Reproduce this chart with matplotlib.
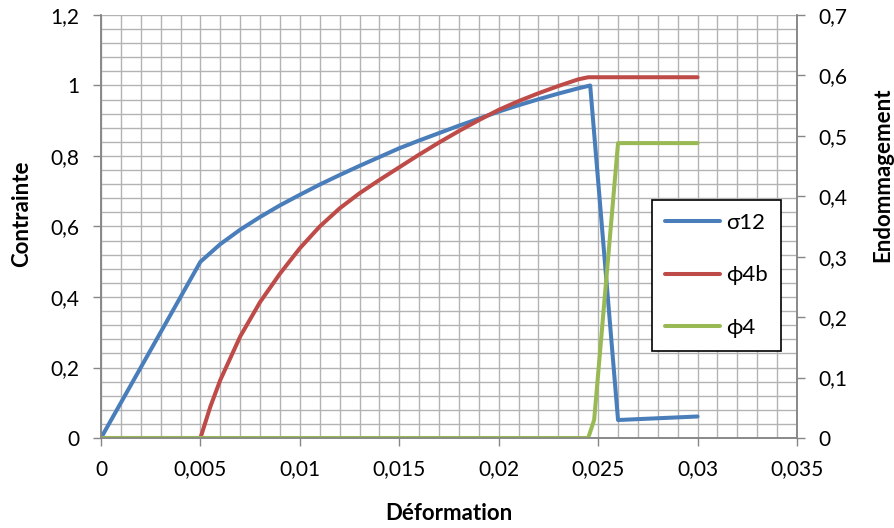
import matplotlib
matplotlib.use("Agg")
import matplotlib.pyplot as plt
from matplotlib.ticker import MultipleLocator, FuncFormatter

plt.rcParams['font.family'] = ['Lato', 'DejaVu Sans']

# --- données ---
eps_sigma = [0, 0.005, 0.006, 0.007, 0.008, 0.009, 0.010, 0.011, 0.012, 0.013,
             0.014, 0.015, 0.016, 0.017, 0.018, 0.019, 0.020, 0.021, 0.022,
             0.023, 0.024, 0.0246, 0.026, 0.030]
sigma12 = [0, 0.5, 0.55, 0.591, 0.627, 0.66, 0.69, 0.719, 0.746, 0.772,
           0.797, 0.822, 0.844, 0.865, 0.886, 0.906, 0.926, 0.944, 0.961,
           0.977, 0.992, 1.0, 0.051, 0.061]

eps_phi4b = [0, 0.005, 0.0055, 0.006, 0.007, 0.008, 0.009, 0.010, 0.011, 0.012,
             0.013, 0.014, 0.015, 0.016, 0.017, 0.018, 0.019, 0.020, 0.021,
             0.022, 0.023, 0.024, 0.0245, 0.030]
phi4b = [0, 0, 0.052, 0.096, 0.168, 0.225, 0.272, 0.314, 0.35, 0.38,
         0.405, 0.427, 0.448, 0.469, 0.489, 0.508, 0.526, 0.543, 0.5575,
         0.5705, 0.5825, 0.5935, 0.597, 0.597]

eps_phi4 = [0, 0.0245, 0.0248, 0.026, 0.030]
phi4 = [0, 0, 0.03, 0.488, 0.488]

bleu = "#4a7ebb"
rouge = "#be4b48"
vert = "#98b954"
gris_axe = "#868686"
gris_grille = "#b3b3b3"

virgule = FuncFormatter(lambda v, p: ("%g" % round(v, 6)).replace(".", ","))

fig = plt.figure(figsize=(8.95, 5.28), dpi=100)
ax = fig.add_axes([101 / 895, 90 / 528, 696 / 895, 423 / 528])
ax2 = ax.twinx()

style = dict(lw=2.9, solid_joinstyle="round", solid_capstyle="round")
ax.plot(eps_sigma, sigma12, color=bleu, label="σ12", **style)
ax2.plot(eps_phi4b, phi4b, color=rouge, label="ϕ4b", **style)
ax2.plot(eps_phi4, phi4, color=vert, label="ϕ4", **style)

ax.set_xlim(0, 0.035)
ax.set_ylim(0, 1.2)
ax2.set_ylim(0, 0.7)

ax.xaxis.set_major_locator(MultipleLocator(0.005))
ax.xaxis.set_minor_locator(MultipleLocator(0.001))
ax.yaxis.set_major_locator(MultipleLocator(0.2))
ax.yaxis.set_minor_locator(MultipleLocator(0.04))
ax2.yaxis.set_major_locator(MultipleLocator(0.1))
ax.xaxis.set_major_formatter(virgule)
ax.yaxis.set_major_formatter(virgule)
ax2.yaxis.set_major_formatter(virgule)

ax.grid(True, which="both", color=gris_grille, lw=1.0)
ax.set_axisbelow(True)

for a in (ax, ax2):
    a.tick_params(which="major", direction="out", length=5.5, width=1.0,
                  color=gris_axe, labelsize=15, pad=10)
    a.tick_params(which="minor", length=0)
    for s in ("left", "right", "bottom"):
        a.spines[s].set_color(gris_axe)
        a.spines[s].set_linewidth(1.1)
    a.spines["top"].set_visible(False)

fig.text(22 / 895, 1 - 214 / 528, "Contrainte", rotation=90, ha="center",
         va="center", fontsize=16, fontweight="bold")
fig.text(883 / 895, 1 - 175 / 528, "Endommagement", rotation=90, ha="center",
         va="center", fontsize=16, fontweight="bold")
fig.text(449 / 895, 1 - 514 / 528, "Déformation", ha="center", va="center",
         fontsize=16, fontweight="bold")

h1, l1 = ax.get_legend_handles_labels()
h2, l2 = ax2.get_legend_handles_labels()
leg = ax2.legend(h1 + h2, l1 + l2, loc="upper left",
                 bbox_to_anchor=(0.791, 0.563), fontsize=16,
                 frameon=True, fancybox=False, framealpha=1,
                 edgecolor="black", handlelength=2.5, handletextpad=0.25,
                 labelspacing=1.45, borderpad=0.6, borderaxespad=0)
leg.get_frame().set_linewidth(1.2)

fig.savefig("out.png", dpi=100)
